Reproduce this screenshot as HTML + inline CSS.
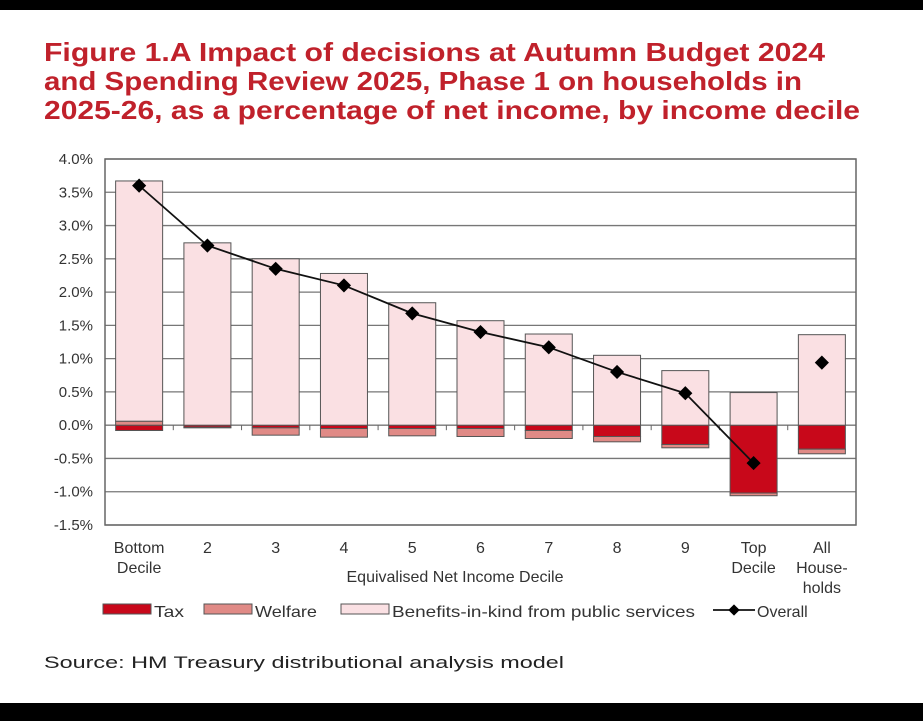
<!DOCTYPE html>
<html><head><meta charset="utf-8"><style>
body{margin:0;width:923px;height:721px;background:#fff;overflow:hidden;font-family:"Liberation Sans",sans-serif}
.bar{position:absolute;left:0;width:923px;background:#000}
</style></head><body>
<div class="bar" style="top:0;height:10px"></div>
<div class="bar" style="top:703px;height:18px"></div>
<svg id="c" width="923" height="721" style="position:absolute;left:0;top:0">
<g font-weight="bold" font-size="26" fill="#c0212b">
<text x="44" y="61" textLength="781" lengthAdjust="spacingAndGlyphs">Figure 1.A Impact of decisions at Autumn Budget 2024</text>
<text x="44" y="90" textLength="758" lengthAdjust="spacingAndGlyphs">and Spending Review 2025, Phase 1 on households in</text>
<text x="44" y="119" textLength="816" lengthAdjust="spacingAndGlyphs">2025-26, as a percentage of net income, by income decile</text>
</g>
<text x="44" y="668" font-size="17" fill="#222" textLength="520" lengthAdjust="spacingAndGlyphs">Source: HM Treasury distributional analysis model</text>
</svg>
<script>
const categories=[["Bottom","Decile"],["2"],["3"],["4"],["5"],["6"],["7"],["8"],["9"],["Top","Decile"],["All","House-","holds"]];
const tax=[-0.08,-0.03,-0.04,-0.05,-0.05,-0.05,-0.08,-0.17,-0.29,-1.02,-0.36];
const welfare=[0.06,-0.01,-0.11,-0.13,-0.11,-0.12,-0.12,-0.08,-0.05,-0.04,-0.07];
const bik=[3.61,2.74,2.5,2.28,1.84,1.57,1.37,1.05,0.82,0.49,1.36];
const overall=[3.6,2.7,2.35,2.1,1.68,1.4,1.17,0.8,0.48,-0.57,0.94];
const yTicks=[4,3.5,3,2.5,2,1.5,1,0.5,0,-0.5,-1,-1.5];
const NS="http://www.w3.org/2000/svg",svg=document.getElementById('c');
const X0=105,X1=856,yMax=4,yMin=-1.5,Y0=159,Y1=525;
const bw=(X1-X0)/categories.length;
const y=v=>Y0+(yMax-v)/(yMax-yMin)*(Y1-Y0);
const cx=i=>X0+bw*(i+0.5);
function mk(t,a,p){const e=document.createElementNS(NS,t);for(const k in a)e.setAttribute(k,a[k]);(p||svg).appendChild(e);return e;}
yTicks.forEach(v=>{
 const l=mk('line',{x1:X0,x2:X1,y1:y(v),y2:y(v),stroke:'#777','stroke-width':1.3});
 
 
 const t=mk('text',{x:X0-12,y:y(v)+5,'font-size':15,'text-anchor':'end',fill:'#333'});
 t.textContent=v.toFixed(1)+'%';
 
 
});
const ax=mk('rect',{x:X0,y:Y0,width:X1-X0,height:Y1-Y0,fill:'none',stroke:'#666','stroke-width':1.5});


function seg(i,a,b,fill,name){
 const top=Math.min(y(a),y(b)),h=Math.abs(y(a)-y(b));
 const r=mk('rect',{x:cx(i)-23.5,y:top,width:47,height:h,fill:fill,stroke:'#555','stroke-width':1});
 
 
}
categories.forEach((c,i)=>{
 let pos=0,neg=0;
 [[tax[i],'#c8081a','tax-bar'],[welfare[i],'#e08a86','welfare-bar'],[bik[i],'#fae0e3','benefits-in-kind-bar']].forEach(([v,f,n])=>{
  if(v>=0){seg(i,pos,pos+v,f,n);pos+=v;}else{seg(i,neg,neg+v,f,n);neg+=v;}
 });
 if(i>0){const tk=mk('line',{x1:X0+bw*i,x2:X0+bw*i,y1:y(0),y2:y(0)+5,stroke:'#666'});
 
 }
 c.forEach((s,j)=>{const t=mk('text',{x:cx(i),y:553+j*20,'font-size':16,'text-anchor':'middle',fill:'#333'});t.textContent=s;
 
 });
});
const pts=overall.slice(0,10).map((v,i)=>cx(i)+','+y(v)).join(' ');
const pl=mk('polyline',{points:pts,fill:'none',stroke:'#111','stroke-width':1.8});


overall.forEach((v,i)=>{const d=mk('rect',{x:cx(i)-5,y:y(v)-5,width:10,height:10,fill:'#000',transform:`rotate(45 ${cx(i)} ${y(v)})`});

});
const xt=mk('text',{x:455,y:582,'font-size':16,'text-anchor':'middle',fill:'#333'});xt.textContent='Equivalised Net Income Decile';


const leg=[[103,'#c8081a','Tax',30],[204,'#e08a86','Welfare',62],[341,'#fae0e3','Benefits-in-kind from public services',303]];
leg.forEach(([x,f,s,w])=>{const g=mk('g',{});


mk('rect',{x:x,y:604,width:48,height:10,fill:f,stroke:'#555'},g);
const t=mk('text',{x:x+51,y:617,'font-size':16,fill:'#333',textLength:w,lengthAdjust:'spacingAndGlyphs'},g);t.textContent=s;});
const g=mk('g',{});


mk('line',{x1:713,x2:755,y1:610,y2:610,stroke:'#111','stroke-width':1.8},g);
mk('rect',{x:730,y:606,width:8,height:8,fill:'#000',transform:'rotate(45 734 610)'},g);
const t=mk('text',{x:757,y:617,'font-size':16,fill:'#333'},g);t.textContent='Overall';
</script>
</body></html>
